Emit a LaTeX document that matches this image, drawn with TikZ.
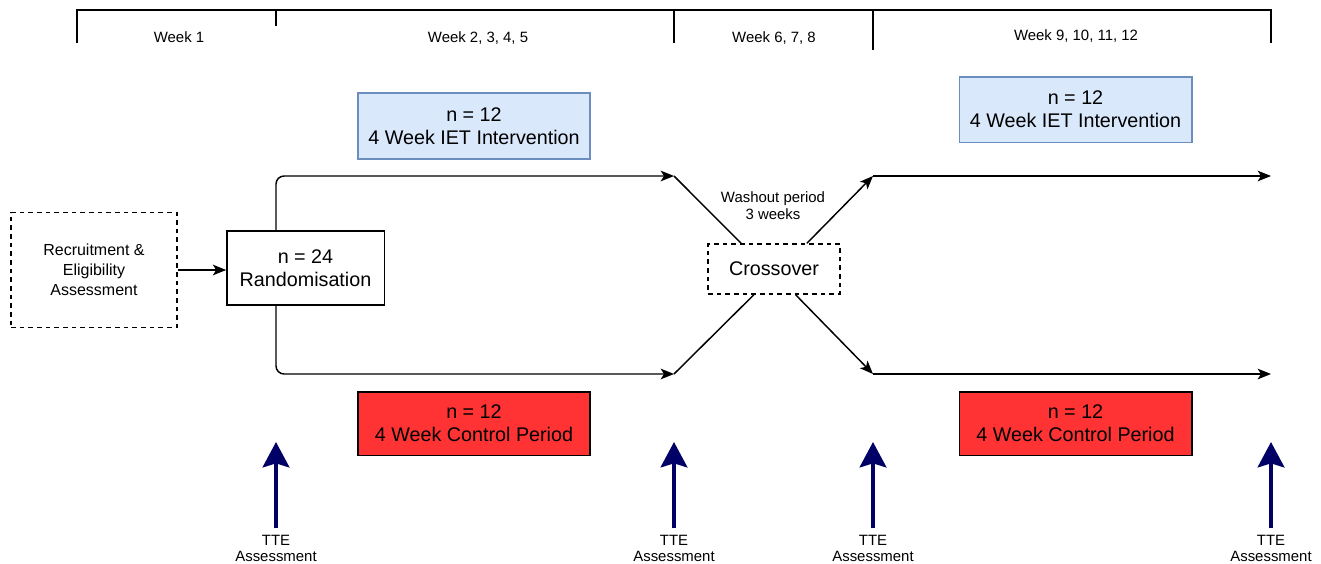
\documentclass[tikz,border=0pt]{standalone}
\usepackage{fontspec}
\setmainfont{Liberation Sans}
\usetikzlibrary{arrows.meta}
\definecolor{ietblue}{HTML}{DAE8FC}
\definecolor{ietedge}{HTML}{6C8EBF}
\definecolor{ctlred}{HTML}{FF3333}
\definecolor{ttenavy}{HTML}{000066}

\begin{document}
\begin{tikzpicture}[x=0.75pt,y=-0.75pt,
		every node/.style={inner sep=0pt},
		small/.style={font=\fontsize{11.2}{12.75}\selectfont,align=center},
		big/.style={font=\fontsize{14.8}{17.25}\selectfont,align=center},
		box/.style={big,draw,line width=1pt},
		conn/.style={line width=1.1pt,-{Stealth[length=10pt,width=8pt,inset=2.5pt]}},
		link/.style={line width=1.1pt},
		tte/.style={line width=3pt,ttenavy,-{Stealth[length=19pt,width=20pt,inset=3pt]}}]
	\useasboundingbox (0,0) rectangle (1321,564);
	% timeline
	\coordinate (c0) at (77,10);
	\coordinate (c1) at (276,10);
	\coordinate (c2) at (674,10);
	\coordinate (c3) at (873,10);
	\coordinate (c4) at (1271,10);
	\draw[link] (77,43) -- (c0) -- (c4) -- (1271,43);
	\draw[link] (c1) -- (276,26);
	\draw[link] (c2) -- (674,43);
	\draw[link] (c3) -- (873,50);
	\node[small] (wk1) at (179,37) {Week 1};
	\node[small] (wk2) at (478,38) {Week 2, 3, 4, 5};
	\node[small] (wk3) at (774,38) {Week 6, 7, 8};
	\node[small] (wk4) at (1076,36) {Week 9, 10, 11, 12};
	% boxes
	\node[draw,line width=1pt,dash pattern=on 3.5pt off 3pt,align=center,
		font=\fontsize{12}{15}\selectfont,minimum width=124.5pt,minimum height=86pt]
		(recruit) at (94,270) {Recruitment \&\\Eligibility\\Assessment};
	\node[box,minimum width=118pt,minimum height=55.5pt] (rand) at (305.5,268) {n = 24\\Randomisation};
	\node[box,draw=ietedge,fill=ietblue,minimum width=174pt,minimum height=49.5pt] (iet1) at (474,126) {n = 12\\4 Week IET Intervention};
	\node[box,fill=ctlred,minimum width=174pt,minimum height=47.5pt] (ctl1) at (474,423.5) {n = 12\\4 Week Control Period};
	\node[box,draw=ietedge,fill=ietblue,minimum width=174.5pt,minimum height=49pt] (iet2) at (1075.5,109.5) {n = 12\\4 Week IET Intervention};
	\node[box,fill=ctlred,minimum width=174.5pt,minimum height=47.5pt] (ctl2) at (1075.5,423.5) {n = 12\\4 Week Control Period};
	\node[box,dash pattern=on 3.5pt off 3pt,minimum width=99pt,minimum height=37.5pt] (cross) at (774,269) {Crossover};
	\node[small] (wash) at (773,206) {Washout period\\3 weeks};
	% connectors
	\coordinate (a1) at (674,176);
	\coordinate (a2) at (674,374);
	\coordinate (b1) at (873,176);
	\coordinate (b2) at (873,374);
	\coordinate (e1) at (1271,176);
	\coordinate (e2) at (1271,374);
	\draw[conn] (recruit) -- (rand.west |- recruit);
	\draw[conn,rounded corners=6pt] (rand.north -| c1) |- (a1);
	\draw[conn,rounded corners=6pt] (rand.south -| c1) |- (a2);
	\draw[link] (a1) -- (cross.142.9);
	\draw[link] (a2) -- (cross.232.8);
	\draw[conn] (cross.38) -- (b1);
	\draw[conn] (cross.310) -- (b2);
	\draw[conn] (b1) -- (e1);
	\draw[conn] (b2) -- (e2);
	% TTE assessments
	\foreach \x/\n in {276/1,674/2,873/3,1271/4}{
		\node[small,font=\fontsize{11.2}{12}\selectfont] (tte\n) at (\x,548) {TTE\\Assessment};
		\coordinate (m\n) at (\x,442);
		\draw[tte] ([yshift=-4pt]tte\n.north |- 0,523) -- (m\n);
	}
\end{tikzpicture}
\end{document}
